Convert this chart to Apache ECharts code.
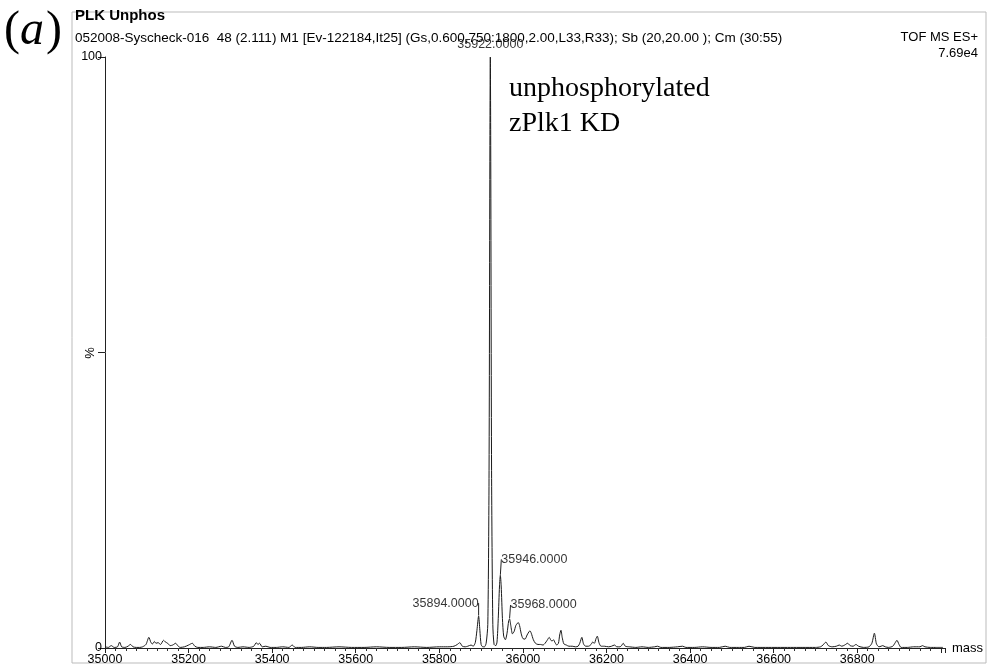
<!DOCTYPE html>
<html>
<head>
<meta charset="utf-8">
<script src="https://cdn.jsdelivr.net/npm/echarts@6/dist/echarts.min.js"></script>
<style>
html,body{margin:0;padding:0;background:#fff;}
#chart{width:989px;height:669px;}
</style>
</head>
<body>
<div id="chart"></div>
<script>
// ---- data ----
var masses = [
35000,35008,35015,35022,35030,35035,35040,35048,35055,35061,35067,35075,35083,35090,35098,35105,35110,35114,35118,35122,35127,35133,35140,35145,35150,35156,35162,35169,35174,35180,35190,35200,35209,35215,35222,35235,35250,35265,35279,35288,35296,35304,35310,35318,35330,35345,35356,35362,35366,35370,35376,35385,35395,35410,35425,35440,35448,35455,35470,35490,35510,35530,35560,35590,35620,35650,35680,35710,35740,35770,35800,35820,35835,35843,35849,35855,35862,35868,35876,35881,35886,35890,35894,35897,35900,35904,35908,35912,35916,35919,35921,35922,35923,35925,35928,35931,35935,35938,35941,35944,35946,35948,35951,35954,35958,35962,35966,35968,35971,35975,35979,35983,35987,35989,35992,35996,36000,36005,36010,36015,36017,36020,36025,36030,36036,36042,36048,36053,36058,36063,36067,36070,36073,36077,36081,36085,36088,36091,36094,36098,36104,36110,36118,36126,36132,36136,36141,36145,36150,36157,36163,36167,36171,36175,36178,36182,36187,36195,36205,36212,36219,36225,36232,36236,36240,36245,36255,36270,36285,36300,36315,36322,36330,36350,36370,36382,36390,36410,36430,36450,36470,36484,36495,36515,36530,36541,36555,36580,36610,36640,36670,36700,36712,36718,36725,36731,36740,36750,36757,36763,36770,36777,36783,36790,36797,36803,36815,36828,36835,36841,36846,36852,36857,36861,36867,36875,36885,36890,36895,36900,36905,36920,36935,36950,36956,36962,36975,36990,37005
];
var intensities = [
0.2,0.1,0.4,0.1,0.2,1.0,0.2,0.1,0.3,0.6,0.2,0.1,0.1,0.2,0.6,1.8,0.9,0.7,1.1,0.8,0.9,0.6,1.3,1.0,0.8,0.4,0.5,0.8,0.4,0.1,0.2,0.5,0.8,0.3,0.1,0.1,0.2,0.1,0.3,0.1,0.2,1.3,0.3,0.1,0.2,0.1,0.3,0.9,0.6,0.8,0.2,0.3,0.1,0.1,0.2,0.1,0.5,0.1,0.1,0.2,0.1,0.1,0.2,0.1,0.1,0.2,0.1,0.1,0.2,0.1,0.2,0.2,0.3,0.6,0.9,0.3,0.2,0.3,0.5,0.3,0.9,3.0,5.4,3.0,0.6,0.2,0.2,0.8,4,30,85,100,85,30,4,0.6,0.4,1.0,5,10.5,12.3,10.5,5,2,1.4,2.5,4.6,4.9,3.8,2.4,2.8,3.8,4.2,4.3,3.8,2.4,1.6,1.5,2.2,2.8,2.9,2.5,1.4,0.8,0.6,0.6,0.5,0.8,1.3,1.8,1.3,1.2,1.4,0.9,0.5,0.8,2.2,3.0,1.8,0.7,0.5,0.3,0.3,0.2,0.3,0.8,1.8,0.7,0.3,0.3,0.6,1.0,0.8,1.6,2.0,0.9,0.3,0.3,0.2,0.3,0.5,0.2,0.2,0.4,0.8,0.3,0.2,0.1,0.2,0.1,0.2,0.3,0.1,0.1,0.2,0.3,0.1,0.1,0.2,0.1,0.1,0.3,0.1,0.1,0.1,0.3,0.1,0.1,0.1,0.1,0.1,0.1,0.2,0.5,1.0,0.4,0.2,0.3,0.5,0.3,0.5,0.8,0.4,0.3,0.6,0.3,0.1,0.2,0.8,2.5,0.7,0.2,0.3,0.4,0.2,0.1,0.3,0.8,1.3,0.6,0.1,0.1,0.2,0.2,0.4,0.2,0.1,0.1,0.1
];
var labelledMasses = [35922, 35946, 35894, 35968];
var labelledValues = [100, 12.3, 5.4, 4.9];
var xTickValues = [35000,35200,35400,35600,35800,36000,36200,36400,36600,36800];
var yTickLabels = ['0','100'];

var titleText = 'PLK Unphos';
var subtitleText = '052008-Syscheck-016  48 (2.111) M1 [Ev-122184,It25] (Gs,0.600,750:1800,2.00,L33,R33); Sb (20,20.00 ); Cm (30:55)';
var instrumentText = 'TOF MS ES+';
var scaleText = '7.69e4';
var noteText = 'unphosphorylated\nzPlk1 KD';
var yName = '%';

var spectrum = masses.map(function(m, i){ return [m, intensities[i]]; });

var labelCfg = [
  {position:'top', align:'center', distance:5, dx:0, dy:0, line:false},
  {position:'top', align:'left', distance:2, dx:1, dy:-7, line:true},
  {position:'top', align:'right', distance:2, dx:0, dy:-4, line:true},
  {position:'top', align:'left', distance:2, dx:1, dy:-5, line:true}
];

var font = '"Liberation Sans", Arial, sans-serif';
var serif = '"Liberation Serif", "Times New Roman", serif';

var peakData = labelledMasses.map(function(m, i){
  var c = labelCfg[i];
  return {value:[m, labelledValues[i]], label:{position:c.position, align:c.align, distance:c.distance}, labelLine:{show:c.line}};
});

var chart = echarts.init(document.getElementById('chart'), null, {renderer:'canvas'});
chart.setOption({
  backgroundColor:'#ffffff',
  animation:false,
  grid:{left:105, right:44, top:57, bottom:21, containLabel:false},
  xAxis:{
    type:'value', min:35000, max:37010, interval:200,
    name:'mass', nameLocation:'end', nameGap:7,
    nameTextStyle:{color:'#000', fontSize:13, fontFamily:font, verticalAlign:'middle'},
    axisLine:{show:true, lineStyle:{color:'#222', width:1}},
    axisTick:{show:true, length:5, lineStyle:{color:'#222'}},
    minorTick:{show:true, splitNumber:8, length:3, lineStyle:{color:'#333'}},
    splitLine:{show:false},
    axisLabel:{color:'#000', fontSize:12.5, fontFamily:font, margin:5,
      formatter:function(v){ return xTickValues.indexOf(v) >= 0 ? String(v) : ''; }}
  },
  yAxis:{
    type:'value', min:0, max:100, interval:50,
    axisLine:{show:true, lineStyle:{color:'#222', width:1}},
    axisTick:{show:true, length:7, lineStyle:{color:'#222'}},
    splitLine:{show:false},
    axisLabel:{color:'#000', fontSize:12.5, fontFamily:font, margin:3,
      formatter:function(v){ var s=String(v); return yTickLabels.indexOf(s) >= 0 ? s : ''; }}
  },
  series:[
    {
      type:'line', data:spectrum, symbol:'none', smooth:0.25,
      lineStyle:{color:'#1a1a1a', width:1}, z:3
    },
    {
      type:'scatter', data:peakData, symbolSize:1, itemStyle:{color:'rgba(0,0,0,0)'},
      z:4,
      label:{show:true, color:'#000', fontSize:12.5, fontFamily:font,
        formatter:function(p){ return p.value[0].toFixed(4); },
        position:'top'
      },
      labelLine:{show:true, length2:0, lineStyle:{color:'#222', width:1}},
      labelLayout:function(p){
        var c = labelCfg[p.dataIndex];
        return {dx:c.dx, dy:c.dy};
      }
    }
  ],
  graphic:[
    {type:'rect', shape:{x:72, y:12, width:914, height:651}, style:{fill:null, stroke:'#bbbbbb', lineWidth:1}, silent:true},
    {type:'text', left:4, top:7, style:{text:'(', font:'48px ' + serif, fill:'#000'}},
    {type:'text', left:20, top:7, style:{text:'a', font:'italic 48px ' + serif, fill:'#000'}},
    {type:'text', left:46, top:7, style:{text:')', font:'48px ' + serif, fill:'#000'}},
    {type:'text', left:75, top:8, style:{text:titleText, font:'bold 15px ' + font, fill:'#000'}},
    {type:'text', left:75, top:31, style:{text:subtitleText, font:'13.5px ' + font, fill:'#000'}},
    {type:'text', right:11, top:31, style:{text:instrumentText, font:'13px ' + font, fill:'#000'}},
    {type:'text', right:11, top:47, style:{text:scaleText, font:'13px ' + font, fill:'#000'}},
    {type:'text', x:90, y:353, rotation:Math.PI/2, style:{text:yName, font:'13px ' + font, fill:'#000', align:'center', verticalAlign:'middle'}},
    {type:'text', left:509, top:71, style:{text:noteText, font:'28px ' + serif, lineHeight:35, fill:'#000'}}
  ]
});
</script>
</body>
</html>
